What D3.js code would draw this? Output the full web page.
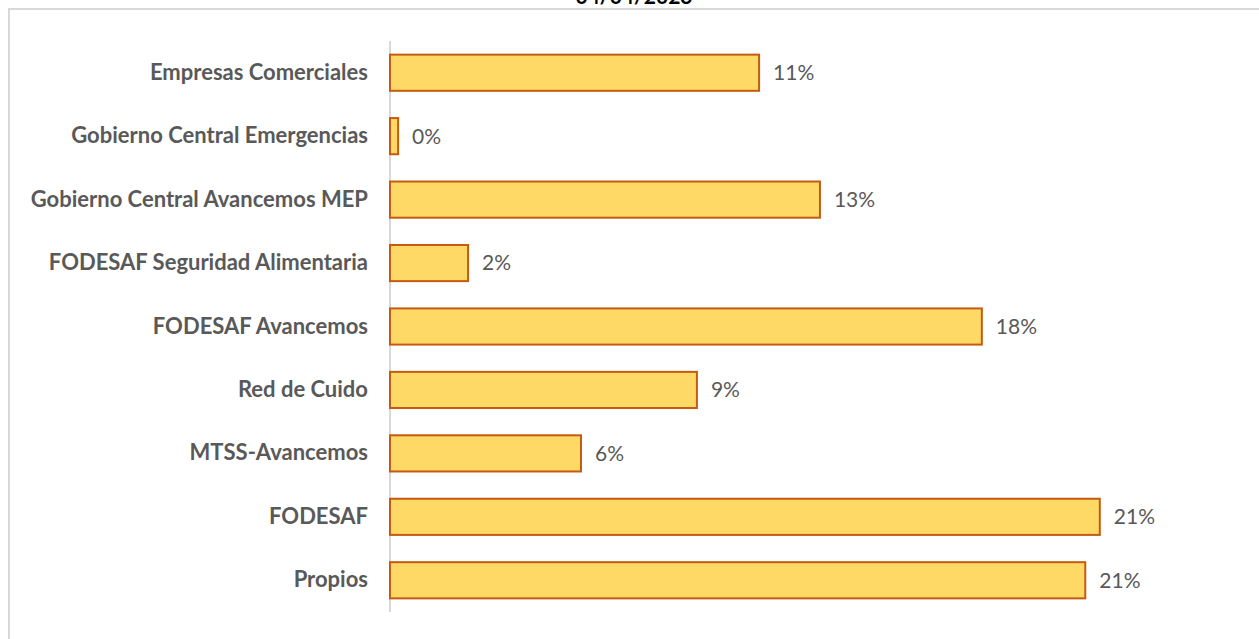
<!DOCTYPE html>
<html>
<head>
<meta charset="utf-8">
<script src="https://cdn.jsdelivr.net/npm/d3@7"></script>
<style>
  body { margin: 0; background: #fff; }
  svg { display: block; }
</style>
</head>
<body>
<svg id="chart" width="1259" height="639"></svg>
<script>
// categories top to bottom, values as share of total
var categories = ["Empresas Comerciales", "Gobierno Central Emergencias", "Gobierno Central Avancemos MEP",
    "FODESAF Seguridad Alimentaria", "FODESAF Avancemos ", "Red de Cuido", "MTSS-Avancemos ", "FODESAF", "Propios"];
var shares = [0.1092, 0.0024, 0.1272, 0.0231, 0.1751, 0.0908, 0.0565, 0.2100, 0.2057];
var chartTitle = "04/04/2023";

function main() {
    var svg = d3.select("#chart");

    // chart area border (only top and left show in the picture)
    svg.append("path")
        .attr("d", "M9,639 V9 H1259")
        .attr("fill", "none")
        .attr("stroke", "#d9d9d9")
        .attr("stroke-width", 2);

    // title sits mostly above the visible area, as in the picture
    svg.append("text")
        .attr("x", 634)
        .attr("y", 4)
        .attr("text-anchor", "middle")
        .style("font-family", "Lato, sans-serif")
        .style("font-weight", "bold")
        .style("font-size", "21px")
        .attr("fill", "#000")
        .text(chartTitle);

    var xScale = d3.scaleLinear().domain([0, 0.25]).range([390, 1235]);
    var yScale = d3.scaleBand().domain(categories).range([41, 612]).paddingInner(0.43).paddingOuter(0.215);

    // category axis
    var yAxis = svg.append("g")
        .attr("transform", "translate(390,0)")
        .call(d3.axisLeft(yScale).tickSize(0).tickPadding(22));
    yAxis.select(".domain")
        .attr("stroke", "#d9d9d9")
        .attr("stroke-width", 2)
        .attr("d", "M0,41V612");
    yAxis.selectAll("text")
        .style("font-family", "Lato, sans-serif")
        .style("font-weight", "bold")
        .style("font-size", "22px")
        .attr("fill", "#595959");

    svg.append("g").selectAll(".bar")
        .data(categories)
        .enter().append("rect")
        .attr("class", "bar")
        .attr("x", xScale(0))
        .attr("y", function(d) { return yScale(d); })
        .attr("width", function(d, i) { return xScale(shares[i]) - xScale(0); })
        .attr("height", yScale.bandwidth())
        .attr("fill", "#ffd966")
        .attr("stroke", "#c55a11")
        .attr("stroke-width", 2);

    // value labels
    svg.append("g").selectAll(".val")
        .data(categories)
        .enter().append("text")
        .attr("class", "val")
        .attr("x", function(d, i) { return xScale(shares[i]) + 14; })
        .attr("y", function(d) { return yScale(d) + yScale.bandwidth() / 2; })
        .attr("dy", "0.35em")
        .style("font-family", "Lato, sans-serif")
        .style("font-size", "21px")
        .attr("fill", "#595959")
        .text(function(d, i) { return Math.round(shares[i] * 100) + "%"; });
}
main();
</script>
</body>
</html>
